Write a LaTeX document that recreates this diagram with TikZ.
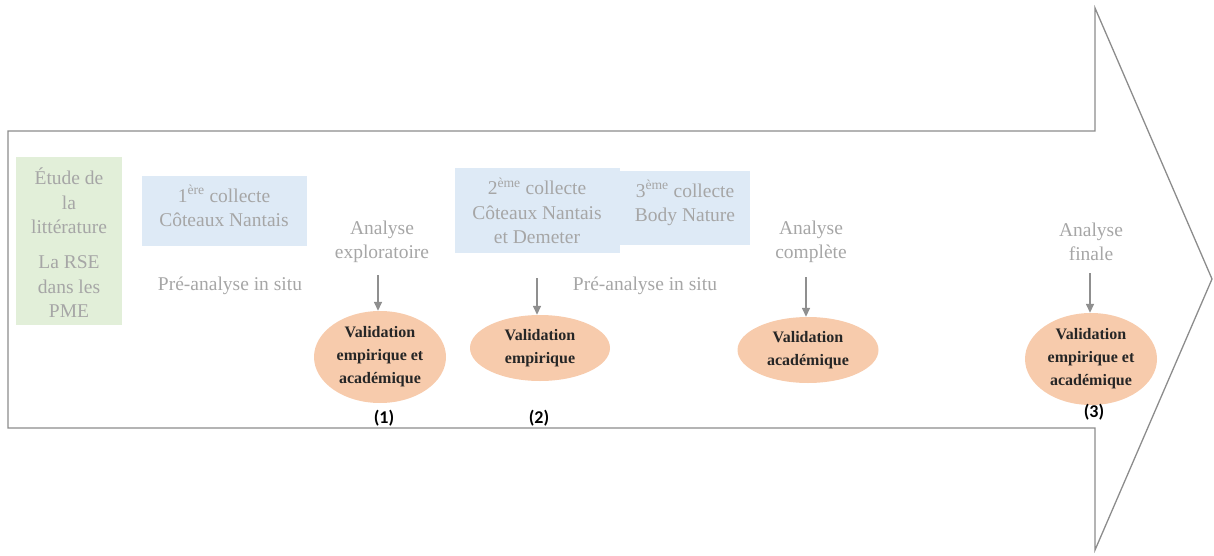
\documentclass[tikz,border=0pt]{standalone}
\usepackage{fontspec}
\setmainfont{Liberation Serif}
\newfontfamily\calib{Carlito}
\usetikzlibrary{arrows.meta,shapes.geometric}
\definecolor{grtxt}{HTML}{A6A6A6}
\definecolor{greenf}{HTML}{E2EFD9}
\definecolor{bluef}{HTML}{DEEAF6}
\definecolor{orangef}{HTML}{F7CBAC}
\definecolor{outl}{HTML}{8C8C8C}
\definecolor{arrc}{HTML}{8F8F8F}
\tikzset{
  gtext/.style={text=grtxt, align=center, font=\fontsize{19.5}{24.5}\selectfont, inner sep=0pt},
  valid/.style={ellipse, fill=orangef, draw=none, align=center, inner sep=0pt, text=black!85,
     font=\fontsize{16}{23}\selectfont\bfseries},
  bbox/.style={fill=bluef, draw=none},
  numlab/.style={font=\calib\fontsize{18}{20}\selectfont\bfseries, inner sep=0pt},
  garr/.style={draw=arrc, line width=1.5pt, -{Triangle[length=9pt,width=8pt]}}
}
\begin{document}
\begin{tikzpicture}[x=1pt,y=-1pt]
\useasboundingbox (0,0) rectangle (1214,556);
% big arrow
\draw[outl, line width=1.3pt, line join=miter]
  (8,131) -- (1095,131) -- (1095,8) -- (1212,279) -- (1095,550) -- (1095,428) -- (8,428) -- cycle;
% literature box
\fill[greenf] (16,157) rectangle (122,325);
\node[gtext] (lit) at (69,201) {Étude de\\la\\littérature};
\node[gtext] (rse) at (69,287) {La RSE\\dans les\\PME};
% collecte 1
\fill[bluef] (142,176) rectangle (307,246);
\node[gtext] (c1) at (224,206) {1\textsuperscript{ère} collecte\\Côteaux Nantais};
\node[gtext] (pre1) at (230,286) {Pré-analyse in situ};
% analyse exploratoire
\node[gtext] (anA) at (382,242) {Analyse\\exploratoire};
\node[valid, minimum width=132pt, minimum height=92pt] (v1) at (380,357) {Validation\\empirique et\\académique};
\node[numlab] (n1) at (384,418) {(1)};
\coordinate (a1s) at (378,275);
\draw[garr] (a1s) -- (a1s |- v1.north);
% collecte 2 and 3
\fill[bluef] (455,168) rectangle (620,253);
\node[gtext] (c2) at (537,211) {2\textsuperscript{ème} collecte\\Côteaux Nantais\\et Demeter};
\fill[bluef] (620,171) rectangle (750,245);
\node[gtext] (c3) at (685,203) {3\textsuperscript{ème} collecte\\Body Nature};
\node[valid, minimum width=140pt, minimum height=66pt] (v2) at (540,348) {Validation\\empirique};
\node[numlab] (n2) at (539,418) {(2)};
\coordinate (a2s) at (537,278);
\draw[garr] (a2s) -- (a2s |- v2.north);
\node[gtext] (pre2) at (645,286) {Pré-analyse in situ};
% analyse complete
\node[gtext] (anC) at (811,242) {Analyse\\complète};
\node[valid, minimum width=141pt, minimum height=66pt] (v3) at (808,350) {Validation\\académique};
\coordinate (a3s) at (806,277);
\draw[garr] (a3s) -- (a3s |- v3.north);
% analyse finale
\node[gtext] (anF) at (1091,242) {Analyse\\finale};
\node[valid, minimum width=132pt, minimum height=92pt] (v4) at (1091,359) {Validation\\empirique et\\académique};
\node[numlab] (n3) at (1094,412) {(3)};
\coordinate (a4s) at (1090,273);
\draw[garr] (a4s) -- (a4s |- v4.north);
\end{tikzpicture}
\end{document}
